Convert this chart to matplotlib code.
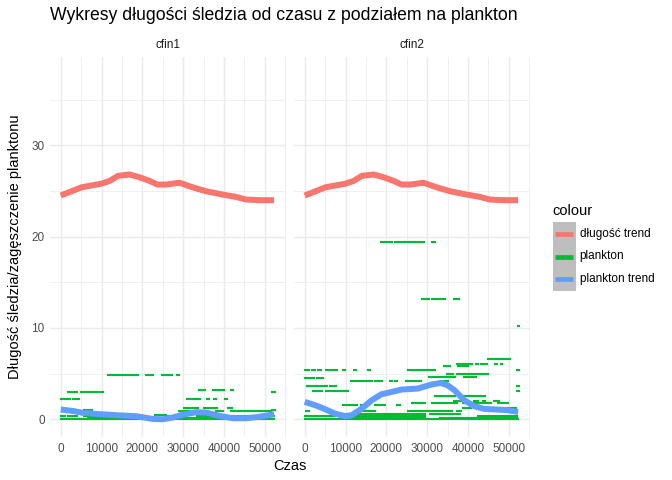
import matplotlib
matplotlib.use("Agg")
import matplotlib.pyplot as plt
from matplotlib.patches import Rectangle
from matplotlib.lines import Line2D
from matplotlib.ticker import MultipleLocator, FixedLocator

# ---------------- data ----------------
panels = ["cfin1", "cfin2"]

# length trend (same in both panels)
len_time = [0, 5100, 10000, 12000, 14000, 16900, 19300, 21800, 23700, 25900,
            29100, 32300, 35600, 39700, 42900, 45400, 48600, 52300]
len_trend = [24.5, 25.4, 25.8, 26.1, 26.65, 26.8, 26.5, 26.1, 25.7, 25.7,
             25.9, 25.4, 24.97, 24.6, 24.35, 24.06, 23.99, 23.99]

# plankton trend cfin1
cfin1_time = [0, 3100, 5500, 8800, 13700, 18500, 22600, 25000, 27500, 29900,
              33200, 35600, 38900, 42100, 45400, 48600, 52300]
cfin1_trend = [1.06, 0.9, 0.69, 0.58, 0.44, 0.33, 0.03, 0.0, 0.19, 0.5,
               0.77, 0.73, 0.37, 0.11, 0.11, 0.26, 0.55]

# plankton trend cfin2
cfin2_time = [0, 2600, 5000, 7400, 9900, 11500, 14000, 16400, 18800, 21300,
              23700, 27700, 31000, 33400, 35000, 36700, 39100, 41600, 44000,
              47200, 49700, 52300]
cfin2_trend = [1.9, 1.53, 1.1, 0.62, 0.33, 0.44, 1.17, 2.08, 2.74, 2.99,
               3.25, 3.36, 3.8, 3.98, 3.72, 3.18, 2.08, 1.42, 1.13,
               1.06, 0.99, 0.8]

# plankton observations: runs of constant value (value, time from, time to)
cfin1_runs = [
    (37.8, 52150, 52350),
    (4.85, 11500, 14200), (4.85, 14700, 15900), (4.85, 16500, 17100),
    (4.85, 17500, 17900), (4.85, 18400, 18900), (4.85, 20800, 21300),
    (4.85, 22000, 22500), (4.85, 24700, 26200), (4.85, 26700, 27300),
    (4.85, 28600, 29100),
    (3.0, 1700, 4000), (3.0, 5000, 5900), (3.0, 6300, 7900),
    (3.0, 8500, 10400), (3.0, 51700, 52400),
    (3.2, 34000, 35400), (3.2, 37400, 40100), (3.2, 41700, 42100),
    (2.2, 100, 2300), (2.2, 2900, 4500), (2.2, 31000, 31500),
    (2.2, 32000, 32800), (2.2, 33400, 34200), (2.2, 35900, 36400),
    (2.2, 37600, 38100), (2.2, 40200, 40700),
    (1.25, 30300, 33600), (1.25, 35000, 37000), (1.25, 37500, 38400),
    (1.25, 41000, 41900),
    (1.05, 5700, 6400), (1.05, 6900, 7600), (1.05, 51700, 52400),
    (0.9, 29100, 31500), (0.9, 32300, 34500), (0.9, 38000, 39700),
    (0.9, 41700, 45700), (0.9, 46200, 51500),
    (0.6, 30300, 38400), (0.5, 23000, 25900),
    (0.38, 0, 1000), (0.38, 1700, 2700), (0.38, 3100, 3900), (0.38, 5700, 6700),
    (0.35, 25500, 29500), (0.35, 33500, 36900), (0.35, 41700, 46600),
    (0.35, 49000, 52300),
    (0.22, 6700, 18100), (0.15, 30000, 38000),
    (0.05, 0, 52300),
]

cfin2_runs = [
    (19.4, 18700, 21300), (19.4, 22100, 23100), (19.4, 23600, 24300),
    (19.4, 24600, 27000), (19.4, 27200, 29200), (19.4, 31100, 31900),
    (13.2, 28700, 30400), (13.2, 31100, 33600), (13.2, 33800, 34300),
    (13.2, 36500, 37000), (13.2, 37200, 37700),
    (10.2, 52150, 52450),
    (6.6, 45000, 46800), (6.6, 47200, 48500), (6.6, 48900, 50400),
    (6.07, 37300, 40000), (6.07, 40400, 40900), (6.07, 41900, 42400),
    (6.07, 43100, 44700), (6.07, 46700, 47200), (6.07, 48000, 48300),
    (5.85, 34100, 35500), (5.85, 37600, 39900),
    (5.4, 0, 1100), (5.4, 1800, 2400), (5.4, 3300, 4100), (5.4, 5300, 7900),
    (5.4, 9500, 9900), (5.4, 12100, 12500), (5.4, 15500, 16000),
    (5.4, 25400, 28200), (5.4, 28700, 30200), (5.4, 30700, 31900),
    (5.4, 52050, 52450),
    (5.0, 34900, 36300), (5.0, 37200, 39000), (5.0, 39600, 42000),
    (5.0, 42400, 44900),
    (4.6, 30400, 34300), (4.6, 34800, 36800), (4.6, 39000, 42000),
    (4.5, 0, 2200), (4.5, 3000, 4500),
    (4.2, 11400, 14100), (4.2, 14600, 16500), (4.2, 17200, 18900),
    (4.2, 20900, 21300), (4.2, 22100, 22500), (4.2, 24800, 28600),
    (4.2, 34100, 35000),
    (3.68, 600, 4400), (3.68, 4900, 5500), (3.68, 6100, 7700),
    (3.68, 52050, 52450),
    (3.1, 2000, 4200), (3.1, 5100, 6100), (3.1, 6500, 10600),
    (3.1, 52050, 52450),
    (2.55, 32000, 36800), (2.55, 37600, 40400), (2.55, 41100, 42400),
    (2.55, 42900, 44100),
    (2.04, 36600, 39200), (2.04, 41400, 42400), (2.04, 43600, 44300),
    (2.04, 46300, 47500),
    (1.82, 26200, 29400), (1.82, 31100, 37200), (1.82, 38800, 45700),
    (1.82, 47300, 49800),
    (1.6, 9300, 12800), (1.6, 13800, 15200), (1.6, 17200, 19700),
    (1.6, 22600, 23300),
    (1.2, 38700, 40700), (1.2, 42000, 51800),
    (0.94, 400, 1100), (0.94, 12400, 17200), (0.94, 25400, 36000),
    (0.94, 37200, 38400),
    (0.6, 6700, 29400), (0.6, 30700, 38000),
    (0.36, 0, 9900), (0.36, 11100, 29400), (0.36, 42400, 52100),
    (0.1, 9900, 29400), (0.1, 33100, 52100),
    (0.0, 0, 52300),
]

title = "Wykresy długości śledzia od czasu z podziałem na plankton"
xlabel = "Czas"
ylabel = "Długość śledzia/zagęszczenie planktonu"
legend_title = "colour"
legend_labels = ["długość trend", "plankton", "plankton trend"]
x_ticks = [0, 10000, 20000, 30000, 40000, 50000]
y_ticks = [0, 10, 20, 30]

# ---------------- style ----------------
RED, GREEN, BLUE = "#F8766D", "#00BA38", "#619CFF"
GRID = "#EBEBEB"
FONT = ["Liberation Sans", "DejaVu Sans"]
plt.rcParams["font.family"] = FONT

W, H = 672, 480
fig = plt.figure(figsize=(W / 96, H / 96), dpi=96)

def px_axes(x0, y0, x1, y1):
    return [x0 / W, 1 - y1 / H, (x1 - x0) / W, (y1 - y0) / H]

panel_px = [(50, 56.7, 286, 436.5), (294, 56.7, 530, 436.5)]
runs = [cfin1_runs, cfin2_runs]
trends = [(cfin1_time, cfin1_trend), (cfin2_time, cfin2_trend)]

for i, name in enumerate(panels):
    ax = fig.add_axes(px_axes(*panel_px[i]))
    ax.set_xlim(-2628, 55211)
    ax.set_ylim(-1.89, 39.7)
    for s in ax.spines.values():
        s.set_visible(False)
    ax.xaxis.set_major_locator(FixedLocator(x_ticks))
    ax.xaxis.set_minor_locator(MultipleLocator(5000))
    ax.yaxis.set_major_locator(FixedLocator(y_ticks))
    ax.yaxis.set_minor_locator(MultipleLocator(5))
    ax.grid(which="major", color=GRID, linewidth=1.07)
    ax.grid(which="minor", color=GRID, linewidth=0.53)
    ax.set_axisbelow(True)
    ax.tick_params(which="both", length=0)
    ax.tick_params(axis="x", labelsize=8.8, labelcolor="#4D4D4D", pad=5)
    ax.tick_params(axis="y", labelsize=8.8, labelcolor="#4D4D4D", pad=4)
    ax.set_xticklabels([str(t) for t in x_ticks])
    if i == 0:
        ax.set_yticklabels([str(t) for t in y_ticks])
    else:
        ax.set_yticklabels([])

    ys = [r[0] for r in runs[i]]
    x0s = [r[1] for r in runs[i]]
    x1s = [r[2] for r in runs[i]]
    ax.hlines(ys, x0s, x1s, colors=GREEN, linewidth=1.6,
              capstyle="projecting", zorder=2)

    ax.plot(len_time, len_trend, color=RED, linewidth=4.5,
            solid_capstyle="butt", solid_joinstyle="round", zorder=3)
    ax.plot(trends[i][0], trends[i][1], color=BLUE, linewidth=4.5,
            solid_capstyle="butt", solid_joinstyle="round", zorder=4)

    cx = (panel_px[i][0] + panel_px[i][2]) / 2
    fig.text(cx / W, 1 - 45.5 / H, name, ha="center", va="center",
             fontsize=8.8, color="#1A1A1A")

# titles
fig.text(50 / W, 1 - 15 / H, title, ha="left", va="center",
         fontsize=13.2, color="black")
fig.text(290 / W, 1 - 466 / H, xlabel, ha="center", va="center",
         fontsize=11, color="black")
fig.text(15 / W, 1 - 246.6 / H, ylabel, ha="center", va="center",
         rotation=90, fontsize=11, color="black")

# legend
lax = fig.add_axes([0, 0, 1, 1])
lax.set_xlim(0, W)
lax.set_ylim(H, 0)
lax.axis("off")
lax.text(552.7, 211, legend_title, ha="left", va="center", fontsize=11,
         color="black")
lax.add_patch(Rectangle((552.7, 221.5), 23.3, 69, facecolor="#BEBEBE",
                        edgecolor="none"))
key_y = [233.7, 256.5, 279.3]
key_col = [RED, GREEN, BLUE]
for ky, kc, kl in zip(key_y, key_col, legend_labels):
    lax.add_line(Line2D([555.3, 573.3], [ky, ky], color=kc, linewidth=3.5,
                        solid_capstyle="butt"))
    lax.text(579.5, ky, kl, ha="left", va="center", fontsize=8.8,
             color="black")

fig.savefig("out.png", dpi=96, facecolor="white")
